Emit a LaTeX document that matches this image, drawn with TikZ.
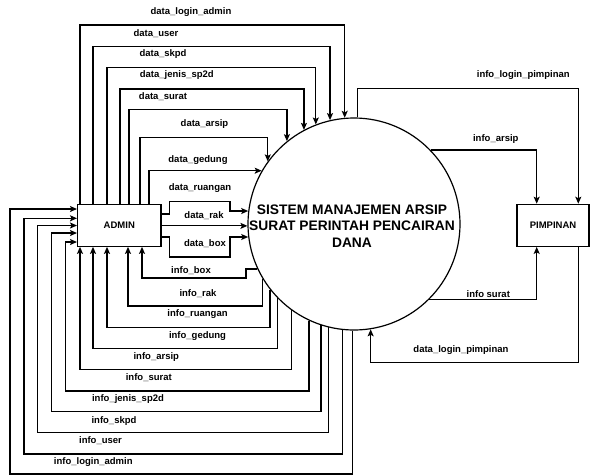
\documentclass[tikz,border=0pt]{standalone}
\usepackage{fontspec}
\setmainfont{Liberation Sans}
\usetikzlibrary{arrows.meta}
\begin{document}
\begin{tikzpicture}[x=1pt,y=-1pt,
  line/.style={draw=black,line width=1.2pt},
  arr/.style={line,-{Stealth[length=7pt,width=6pt,inset=1.5pt]}},
  lbl/.style={font=\fontsize{9.5}{11}\selectfont\bfseries,inner sep=0pt},
  box/.style={line,rectangle,fill=white,font=\fontsize{9.5}{11}\selectfont\bfseries,inner sep=0pt},
  proc/.style={line,circle,minimum size=212pt,inner sep=0pt},
  ttl/.style={font=\fontsize{13.8}{16.4}\selectfont\bfseries,align=center,inner sep=0pt}
]
\useasboundingbox (0,0) rectangle (590,475);

\node[proc] (c) at (354,224) {};
\node[ttl] (title) at (352,226) {SISTEM MANAJEMEN ARSIP\\SURAT PERINTAH PENCAIRAN\\DANA};
\node[box,minimum width=83.4pt,minimum height=41.5pt] (admin) at (119.3,225.5) {ADMIN};
\node[box,minimum width=72pt,minimum height=42pt] (pim) at (553,225.3) {PIMPINAN};

% data flows admin -> system (top)
\draw[arr] (admin.north -| 80,0) -- (80,25) -| (c.95.8);
\draw[arr] (admin.north -| 93,0) -- (93,46.7) -| (c.103.1);
\draw[arr] (admin.north -| 107,0) -- (107,67.7) -| (c.111.6);
\draw[arr] (admin.north -| 120,0) -- (120,89) -| (c.118.1);
\draw[arr] (admin.north -| 129,0) -- (129,109.3) -| (c.129.4);
\draw[arr] (admin.north -| 140,0) -- (140,137.7) -| (c.144.5);
\draw[arr] (admin.north -| 149,0) |- (c.150.9);
% data flows admin -> system (right)
\draw[arr] (admin.east |- 0,214) -| (169.5,201.5) -- (230,201.5) |- (c.173.5);
\draw[arr] (admin.east |- c.181.1) -- (c.181.1);
\draw[arr] (admin.east |- 0,237) -| (169.5,257) -- (230,257) |- (c.187.2);

% info flows system -> admin (bottom)
\draw[arr] (c.205.7) -| (246,278) -| (admin.south -| 142,0);
\draw[arr] (c.211.1) |- (128,306) -- (admin.south -| 128,0);
\draw[arr] (c.218.5) |- (107,327.3) -- (admin.south -| 107,0);
\draw[arr] (c.224.4) |- (93,348.3) -- (admin.south -| 93,0);
\draw[arr] (c.234.4) |- (80,369.3) -- (admin.south -| 80,0);
% info flows system -> admin (left)
\draw[arr] (c.245) |- (65.7,391) |- (admin.west |- 0,242);
\draw[arr] (c.252.3) |- (51.7,411.7) |- (admin.west |- 0,233);
\draw[arr] (c.256.5) |- (37.7,432.7) |- (admin.west |- 0,225.5);
\draw[arr] (c.264.2) |- (24,454) |- (admin.west |- 0,218.3);
\draw[arr] (c.269.3) |- (10,474) |- (admin.west |- 0,209);

% pimpinan flows
\draw[arr] (c.88.5) |- (578.3,88.3) -- (pim.north -| 578.3,0);
\draw[arr] (c.44.8) -| (pim.north -| 536.7,0);
\draw[arr] (c.-45.8) -| (pim.south -| 536.7,0);
\draw[arr] (pim.south -| 578.3,0) |- (c.279.2 |- 0,362.7) -- (c.279.2);

% labels
\node[lbl] (l1) at (191,12.3) {data\_login\_admin};
\node[lbl] (l2) at (156,33.3) {data\_user};
\node[lbl] (l3) at (163,54) {data\_skpd};
\node[lbl] (l4) at (176.8,75) {data\_jenis\_sp2d};
\node[lbl] (l5) at (163,96.3) {data\_surat};
\node[lbl] (l6) at (204.5,124.3) {data\_arsip};
\node[lbl] (l7) at (198,160) {data\_gedung};
\node[lbl] (l8) at (200,188) {data\_ruangan};
\node[lbl] (l9) at (204,216) {data\_rak};
\node[lbl] (l10) at (205,243.5) {data\_box};
\node[lbl] (m1) at (191,271) {info\_box};
\node[lbl] (m2) at (198,293.3) {info\_rak};
\node[lbl] (m3) at (197.5,314) {info\_ruangan};
\node[lbl] (m4) at (197.5,336) {info\_gedung};
\node[lbl] (m5) at (156.3,356.7) {info\_arsip};
\node[lbl] (m6) at (148.8,377.3) {info\_surat};
\node[lbl] (m7) at (128,399) {info\_jenis\_sp2d};
\node[lbl] (m8) at (114,420.7) {info\_skpd};
\node[lbl] (m9) at (100.5,441) {info\_user};
\node[lbl] (m10) at (93.3,461.7) {info\_login\_admin};
\node[lbl] (p1) at (523.3,75) {info\_login\_pimpinan};
\node[lbl] (p2) at (495.8,139) {info\_arsip};
\node[lbl] (p3) at (488.3,294) {info surat};
\node[lbl] (p4) at (461,350) {data\_login\_pimpinan};
\end{tikzpicture}
\end{document}
